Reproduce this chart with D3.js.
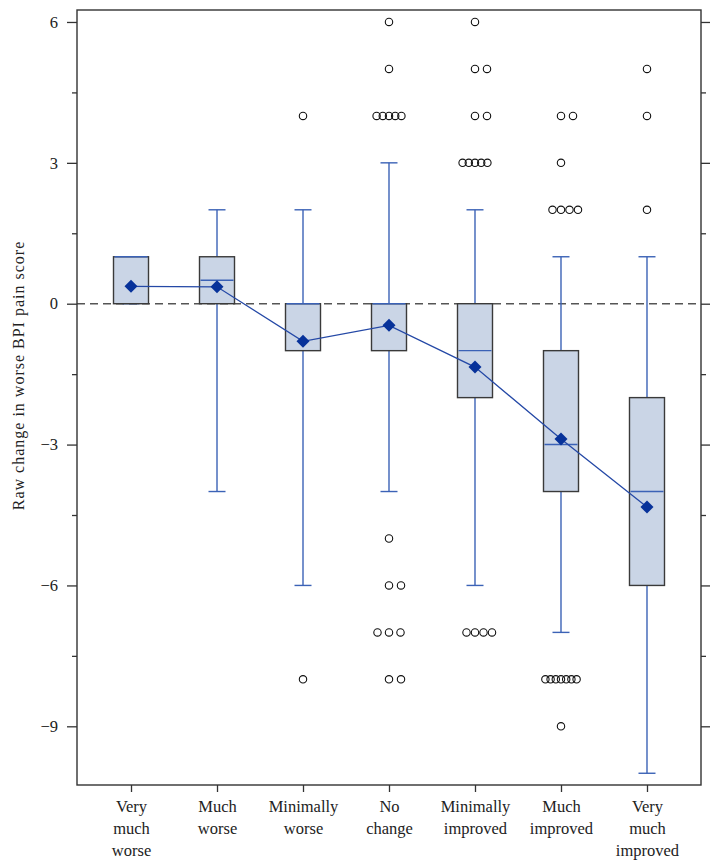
<!DOCTYPE html>
<html>
<head>
<meta charset="utf-8">
<script src="https://cdn.jsdelivr.net/npm/d3@7"></script>
<style>
  body { margin: 0; background: #fff; }
  svg { display: block; }
  text { font-family: "Liberation Serif", "DejaVu Serif", serif; fill: #222; }
</style>
</head>
<body>
<svg id="chart" width="720" height="865"></svg>
<script>
// ---- data ----
const categories = ["Very much worse", "Much worse", "Minimally worse", "No change", "Minimally improved", "Much improved", "Very much improved"];
const categoryLines = [["Very", "much", "worse"], ["Much", "worse"], ["Minimally", "worse"], ["No", "change"], ["Minimally", "improved"], ["Much", "improved"], ["Very", "much", "improved"]];
const q1 = [0, 0, -1, -1, -2, -4, -6];
const medians = [1, 0.5, 0, 0, -1, -3, -4];
const q3 = [1, 1, 0, 0, 0, -1, -2];
const whiskerLow = [0, -4, -6, -4, -6, -7, -10];
const whiskerHigh = [1, 2, 2, 3, 2, 1, 1];
const means = [0.37, 0.36, -0.80, -0.46, -1.35, -2.88, -4.33];
// outliers: [value, count] per category
const outliers = [
  [],
  [],
  [[4, 1], [-8, 1]],
  [[6, 1], [5, 1], [4, 5], [-5, 1], [-6, 2], [-7, 3], [-8, 2]],
  [[6, 1], [5, 2], [4, 2], [3, 5], [-7, 4]],
  [[4, 2], [3, 1], [2, 4], [-8, 7], [-9, 1]],
  [[5, 1], [4, 1], [2, 1]]
];
const yMajorTicks = [-9, -6, -3, 0, 3, 6];
const yMinorTicks = [-7.5, -4.5, -1.5, 1.5, 4.5];
const yTitle = "Raw change in worse BPI pain score";

// ---- layout ----
const L = 77, R = 701, T = 10, B = 785;
const svg = d3.select("#chart");
const y = d3.scaleLinear().domain([-10.25, 6.255]).range([B, T]);
const x = d3.scalePoint().domain(categories).range([L, R]).padding(0.628);

const boxW = 35, capW = 17;
const blue = "#3b62b6", navy = "#07329a", boxFill = "#cad5e6", boxStroke = "#3a3a3a";

// zero reference line
svg.append("line")
  .attr("x1", L).attr("x2", R).attr("y1", y(0)).attr("y2", y(0))
  .attr("stroke", "#555").attr("stroke-width", 1.5).attr("stroke-dasharray", "8,5");

const rows = categories.map((c, i) => ({c, i}));
const g = svg.append("g");
// whiskers
g.selectAll(".wh").data(rows).join("line")
  .attr("x1", d => x(d.c)).attr("x2", d => x(d.c))
  .attr("y1", d => y(whiskerLow[d.i])).attr("y2", d => y(whiskerHigh[d.i]))
  .attr("stroke", blue).attr("stroke-width", 1.4);
["low", "high"].forEach(k => {
  g.selectAll(".cap" + k).data(rows).join("line")
    .attr("x1", d => x(d.c) - capW / 2).attr("x2", d => x(d.c) + capW / 2)
    .attr("y1", d => y(k === "low" ? whiskerLow[d.i] : whiskerHigh[d.i]))
    .attr("y2", d => y(k === "low" ? whiskerLow[d.i] : whiskerHigh[d.i]))
    .attr("stroke", blue).attr("stroke-width", 1.4);
});
// boxes
g.selectAll(".box").data(rows).join("rect")
  .attr("x", d => x(d.c) - boxW / 2).attr("width", boxW)
  .attr("y", d => y(q3[d.i])).attr("height", d => y(q1[d.i]) - y(q3[d.i]))
  .attr("fill", boxFill).attr("stroke", boxStroke).attr("stroke-width", 1.4);
// medians
g.selectAll(".med").data(rows).join("line")
  .attr("x1", d => x(d.c) - boxW / 2 + 1).attr("x2", d => x(d.c) + boxW / 2 - 1)
  .attr("y1", d => y(medians[d.i])).attr("y2", d => y(medians[d.i]))
  .attr("stroke", blue).attr("stroke-width", 1.4);

// outliers
const spacingFor = {1: 0, 2: 12, 3: 11.5, 4: 8.5, 5: 6.2, 6: 5.6, 7: 5.2};
const outPts = [];
outliers.forEach((list, i) => {
  list.forEach(([v, n]) => {
    const s = spacingFor[n];
    const start = -Math.floor((n - 1) / 2) * s;
    for (let k = 0; k < n; k++) outPts.push({c: categories[i], v, off: start + k * s});
  });
});
g.selectAll(".out").data(outPts).join("circle")
  .attr("cx", d => x(d.c) + d.off).attr("cy", d => y(d.v)).attr("r", 3.7)
  .attr("fill", "none").attr("stroke", "#111").attr("stroke-width", 1.1);

// mean line + diamonds
const line = d3.line().x(d => x(d.c)).y(d => y(means[d.i]));
g.append("path").datum(rows).attr("d", line)
  .attr("fill", "none").attr("stroke", "#2448a6").attr("stroke-width", 1.3);
g.selectAll(".mean").data(rows).join("path")
  .attr("d", d3.symbol(d3.symbolSquare, 85)())
  .attr("transform", d => `translate(${x(d.c)},${y(means[d.i])}) rotate(45)`)
  .attr("fill", navy);

// frame
svg.append("rect").attr("x", L).attr("y", T).attr("width", R - L).attr("height", B - T)
  .attr("fill", "none").attr("stroke", "#333").attr("stroke-width", 1.4);

// axes
const styleAxis = sel => {
  sel.select(".domain").remove();
  sel.selectAll(".tick line").attr("stroke", "#333").attr("stroke-width", 1.3);
  sel.selectAll("text").style("font-family", '"Liberation Serif", serif').style("font-size", "16.5px").attr("fill", "#222");
};
svg.append("g").attr("transform", `translate(${L},0)`)
  .call(d3.axisLeft(y).tickValues(yMajorTicks).tickSize(10).tickPadding(9))
  .call(styleAxis);
svg.append("g").attr("transform", `translate(${L},0)`)
  .call(d3.axisLeft(y).tickValues(yMinorTicks).tickSize(5).tickFormat(""))
  .call(styleAxis);
svg.append("g").attr("transform", `translate(${R},0)`)
  .call(d3.axisRight(y).tickValues(yMajorTicks).tickSize(9).tickFormat(""))
  .call(styleAxis);
svg.append("g").attr("transform", `translate(${R},0)`)
  .call(d3.axisRight(y).tickValues(yMinorTicks).tickSize(5).tickFormat(""))
  .call(styleAxis);

const xa = svg.append("g").attr("transform", `translate(0,${B})`)
  .call(d3.axisBottom(x).tickSize(7).tickFormat(""))
  .call(styleAxis);
xa.selectAll(".tick").append("text")
  .attr("text-anchor", "middle")
  .style("font-family", '"Liberation Serif", serif').style("font-size", "16.5px").attr("fill", "#222")
  .each(function(d) {
    const lines = categoryLines[categories.indexOf(d)];
    d3.select(this).selectAll("tspan").data(lines).join("tspan")
      .attr("x", 0).attr("y", (t, j) => 27 + j * 22).text(t => t);
  });

// y title
svg.append("text")
  .attr("transform", `translate(24,${(T + B) / 2 - 22}) rotate(-90)`)
  .attr("text-anchor", "middle")
  .style("font-size", "16px")
  .style("letter-spacing", "1px")
  .text(yTitle);
</script>
</body>
</html>
